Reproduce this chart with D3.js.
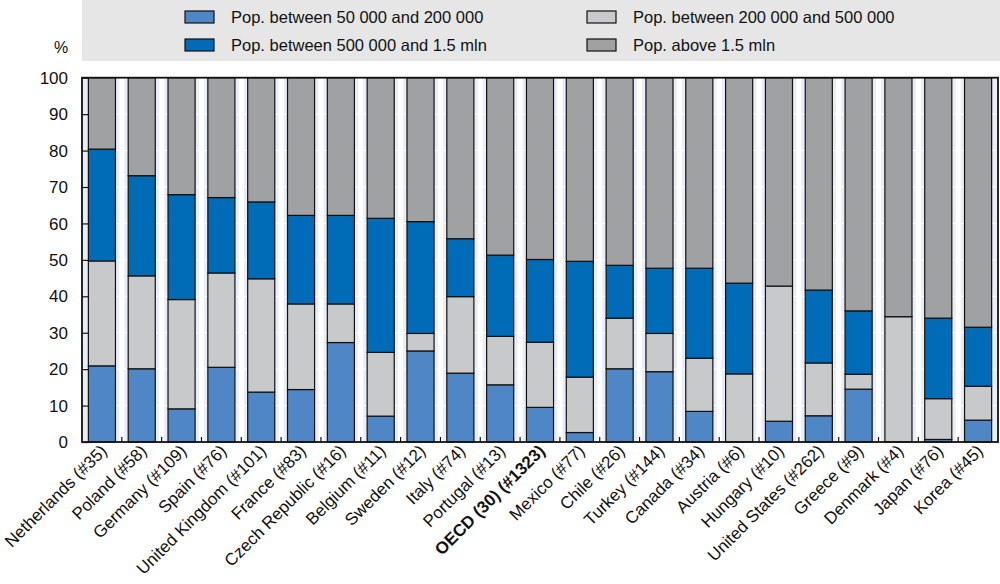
<!DOCTYPE html>
<html>
<head>
<meta charset="utf-8">
<script src="https://cdn.jsdelivr.net/npm/d3@7"></script>
<style>
  html, body { margin: 0; padding: 0; background: #ffffff; }
  svg { display: block; font-family: "Liberation Sans", Arial, sans-serif; }
</style>
</head>
<body>
<svg id="chart" width="1000" height="584"></svg>
<script>
// ---- Data ----
const categories = [
  "Netherlands (#35)", "Poland (#58)", "Germany (#109)", "Spain (#76)",
  "United Kingdom (#101)", "France (#83)", "Czech Republic (#16)", "Belgium (#11)",
  "Sweden (#12)", "Italy (#74)", "Portugal (#13)", "OECD (30) (#1323)",
  "Mexico (#77)", "Chile (#26)", "Turkey (#144)", "Canada (#34)",
  "Austria (#6)", "Hungary (#10)", "United States (#262)", "Greece (#9)",
  "Denmark (#4)", "Japan (#76)", "Korea (#45)"
];
const highlighted = ["OECD (30) (#1323)"];
const seriesNames = [
  "Pop. between 50 000 and 200 000",
  "Pop. between 200 000 and 500 000",
  "Pop. between 500 000 and 1.5 mln",
  "Pop. above 1.5 mln"
];
const pop50to200k = [20.9, 20.1, 9.1, 20.5, 13.7, 14.4, 27.3, 7.1, 25.0, 18.9, 15.7, 9.5, 2.6, 20.1, 19.3, 8.4, 0.0, 5.7, 7.2, 14.5, 0.0, 0.7, 6.0];
const pop200to500k = [28.8, 25.5, 30.0, 25.9, 31.1, 23.5, 10.6, 17.5, 4.8, 21.0, 13.3, 17.9, 15.2, 13.9, 10.5, 14.6, 18.7, 37.1, 14.5, 4.1, 34.4, 11.2, 9.3];
const pop500kto15m = [30.7, 27.5, 28.8, 20.7, 21.1, 24.3, 24.3, 36.8, 30.7, 15.9, 22.3, 22.7, 31.8, 14.5, 17.9, 24.7, 24.9, 0.0, 20.0, 17.4, 0.0, 22.1, 16.2];
const popAbove15m = [19.6, 26.9, 32.1, 32.9, 34.1, 37.8, 37.8, 38.6, 39.5, 44.2, 48.7, 49.9, 50.4, 51.5, 52.3, 52.3, 56.4, 57.2, 58.3, 64.0, 65.6, 66.0, 68.5];
const yTickValues = [0, 10, 20, 30, 40, 50, 60, 70, 80, 90, 100];
const yUnit = "%";

const colors = ["#4f86c6", "#c8c9cb", "#006bb6", "#a0a1a3"];

// ---- Build table ----
const keys = ["s1", "s2", "s3", "s4"];
const table = categories.map((c, i) => ({
  cat: c, s1: pop50to200k[i], s2: pop200to500k[i], s3: pop500kto15m[i], s4: popAbove15m[i]
}));
const stacked = d3.stack().keys(keys)(table);

const svg = d3.select("#chart");
const pLeft = 82, pRight = 998, pTop = 77.7, pBottom = 442;

const x = d3.scaleBand().domain(categories).range([pLeft, pRight]).paddingInner(0.32).paddingOuter(0.16);
const y = d3.scaleLinear().domain([0, 100]).range([pBottom, pTop]);

// ---- Legend box ----
svg.append("rect").attr("x", 82).attr("y", 0).attr("width", 918).attr("height", 61).attr("fill", "#e6e6e6");
const legendOrder = [0, 1, 2, 3];
const legendPos = [[185, 11], [587, 11], [185, 39], [587, 39]];
legendOrder.forEach((si, k) => {
  const [lx, ly] = legendPos[k];
  svg.append("rect").attr("x", lx).attr("y", ly).attr("width", 29).attr("height", 12)
    .attr("fill", colors[si]).attr("stroke", "#111").attr("stroke-width", 1.2);
  svg.append("text").attr("x", lx + 46).attr("y", ly + 6).attr("dy", "0.36em")
    .attr("font-size", 16.5).attr("fill", "#111").text(seriesNames[si]);
});

// ---- Plot background ----
svg.append("rect").attr("x", pLeft).attr("y", pTop).attr("width", pRight - pLeft).attr("height", pBottom - pTop).attr("fill", "#e9edf7");
const step = x.step();
const boundaries = categories.slice(1).map(c => x(c) - (step - x.bandwidth()) / 2);
svg.append("g").selectAll("line").data(boundaries).join("line")
  .attr("x1", d => d).attr("x2", d => d).attr("y1", pTop).attr("y2", pBottom)
  .attr("stroke", "#ffffff").attr("stroke-width", 5);
svg.append("g").selectAll("line").data(yTickValues.slice(1, -1)).join("line")
  .attr("x1", pLeft).attr("x2", pRight).attr("y1", d => y(d)).attr("y2", d => y(d))
  .attr("stroke", "#ffffff").attr("stroke-width", 1);

// ---- Bars ----
svg.append("g").selectAll("g").data(stacked).join("g")
  .attr("fill", (d, i) => colors[i])
  .selectAll("rect").data(d => d).join("rect")
  .attr("x", d => x(d.data.cat))
  .attr("width", x.bandwidth())
  .attr("y", d => y(d[1]))
  .attr("height", d => y(d[0]) - y(d[1]))
  .attr("stroke", "#111").attr("stroke-width", 1.2);

// ---- Axes ----
const yAxis = d3.axisRight(y).tickValues(yTickValues).tickSize(7).tickFormat("");
const gy = svg.append("g").attr("transform", `translate(${pLeft},0)`).call(yAxis);
gy.select(".domain").remove();
gy.selectAll(".tick line").attr("stroke", "#111").attr("stroke-width", 1.2);

svg.append("g").selectAll("text").data(yTickValues).join("text")
  .attr("x", 68).attr("y", d => y(d)).attr("dy", "0.36em")
  .attr("text-anchor", "end").attr("font-size", 17).attr("fill", "#111").text(d => d);

svg.append("text").attr("x", 61).attr("y", 47).attr("dy", "0.36em")
  .attr("text-anchor", "middle").attr("font-size", 16).attr("fill", "#111").text(yUnit);

svg.append("g").selectAll("line").data(boundaries).join("line")
  .attr("x1", d => d).attr("x2", d => d).attr("y1", pBottom).attr("y2", pBottom - 5)
  .attr("stroke", "#111").attr("stroke-width", 1.2);

svg.append("rect").attr("x", pLeft).attr("y", pTop).attr("width", pRight - pLeft).attr("height", pBottom - pTop)
  .attr("fill", "none").attr("stroke", "#111").attr("stroke-width", 1.8);

svg.append("g").selectAll("text").data(categories).join("text")
  .attr("transform", d => `translate(${x(d) + x.bandwidth() / 2 + 6},${pBottom + 10}) rotate(-45)`)
  .attr("text-anchor", "end")
  .attr("font-size", 17)
  .attr("font-weight", d => highlighted.includes(d) ? "bold" : "normal")
  .attr("fill", "#111")
  .text(d => d);
</script>
</body>
</html>
